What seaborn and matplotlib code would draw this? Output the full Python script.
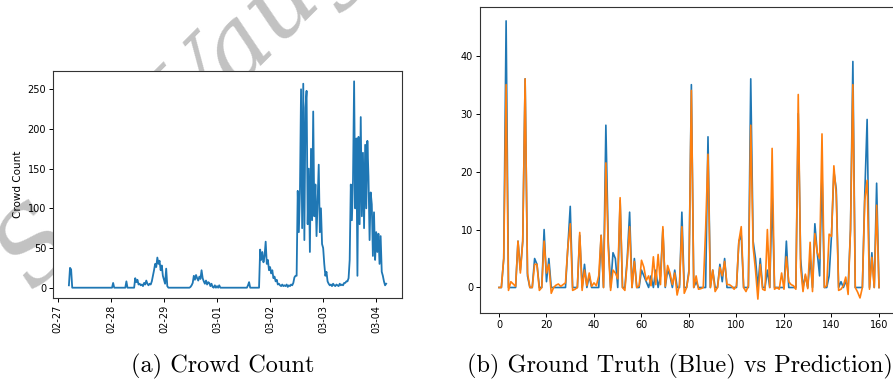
import pandas as pd
import matplotlib
matplotlib.use("Agg")
import matplotlib.pyplot as plt
import matplotlib.dates as mdates
import seaborn as sns

# (a) crowd count, 30 min samples from 2020-02-27 05:00
start_time = "2020-02-27 05:00"
counts_0227 = [3, 25, 23, 0, 0, 0, 0, 0, 0, 0,
               0, 0, 0, 0, 0, 0, 0, 0, 0, 0,
               0, 0, 0, 0, 0, 0, 0, 0, 0, 0,
               0, 0, 0, 0, 0, 0, 0, 0]
counts_0228 = [0, 0, 6, 0, 0, 0, 0, 0, 0, 0,
               0, 0, 0, 0, 8, 0, 0, 0, 0, 0,
               0, 0, 12, 7, 10, 4, 5, 3, 4, 2,
               6, 4, 9, 5, 3, 5, 4, 8, 15, 22,
               30, 26, 38, 30, 34, 22, 28, 15]
counts_0229 = [10, 5, 24, 2, 0, 0, 0, 0, 0, 0,
               0, 0, 0, 0, 0, 0, 0, 0, 0, 0,
               0, 0, 0, 0, 1, 3, 6, 15, 10, 16,
               12, 9, 14, 11, 22, 12, 8, 5, 9, 4,
               7, 6, 2, 5, 1, 0, 3, 0]
counts_0301 = [2, 0, 3, 0, 0, 0, 0, 0, 0, 0,
               0, 0, 0, 0, 0, 0, 0, 0, 0, 0,
               0, 0, 0, 0, 0, 0, 0, 0, 3, 7,
               0, 0, 0, 0, 0, 0, 0, 0, 0, 48,
               35, 45, 32, 40, 58, 30, 35, 22]
counts_0302 = [26, 18, 22, 12, 14, 8, 10, 4, 5, 3,
               2, 4, 2, 3, 2, 4, 1, 3, 2, 4,
               3, 6, 13, 15, 15, 122, 70, 120, 250, 75,
               257, 60, 227, 248, 80, 150, 45, 175, 85, 222,
               90, 130, 65, 110, 155, 70, 100, 55]
counts_0303 = [50, 30, 15, 20, 8, 5, 3, 4, 2, 5,
               3, 2, 4, 3, 2, 5, 3, 4, 3, 6,
               6, 8, 8, 12, 35, 130, 85, 135, 260, 100,
               188, 15, 190, 80, 215, 90, 170, 75, 180, 100,
               185, 140, 60, 120, 105, 40, 95, 35]
counts_0304 = [70, 45, 68, 30, 65, 20, 15, 8, 3, 5]

# (b) ground truth vs prediction
ground_truth = [0, 0, 5, 46, 0, 0, 0, 0, 8, 3, 8, 36, 2, 0, 0, 5, 4, 0, 0, 10,
                1, 5, 0, 0, 0, 0, 0, 0, 0, 7, 14, 0, 0, 0, 9, 0, 4, 0, 2, 0,
                0, 0, 0, 9, 0, 28, 8, 0, 6, 5, 0, 15, 0, 0, 5, 13, 0, 5, 0, 0,
                3, 2, 1, 0, 2, 0, 3, 0, 2, 10, 0, 3, 2, 0, 3, 0, 0, 13, 0, 0,
                3, 35, 0, 1, 0, 0, 0, 0, 26, 0, 3, 0, 0, 4, 1, 5, 0, 0, 0, 0,
                0, 8, 9, 0, 0, 0, 36, 8, 5, 0, 5, 0, 0, 3, 0, 16, 0, 0, 0, 0,
                0, 8, 0, 0, 0, 0, 30, 5, 0, 2, 0, 5, 0, 11, 6, 2, 20, 0, 0, 2,
                9, 20, 17, 0, 1, 0, 1, 0, 10, 39, 0, 0, 0, 0, 16, 29, 0, 6, 0, 18,
                0]
prediction = [0, 0, 5, 35, -0.5, 1, 0.6, 0.2, 8, 2.5, 8, 36, 2.5, 0, 0, 4, 4, -0.5, 0, 8,
              2.5, 4, -1, 0, 0.4, 0.6, 0.2, 0.5, 0.8, 7, 11, -0.5, -0.3, 0, 9.5, -0.5, 3, 0.3, 2.5, 0.2,
              0.8, 0.3, 2, 9, 0, 21.5, 7, -0.5, 3, 2.5, 1.5, 15.5, 0, -0.5, 4.5, 10.5, 0, 4.5, 0, 0.3,
              4.7, 3.5, 1.2, 2, 0.3, 5.3, 0.5, 5.7, 0.5, 10.5, 0.2, 3.8, 2.5, 0.5, 2.5, -1.3, 0.5, 10.5, -1, 0,
              2.5, 34, 0, 2, -0.3, -0.2, 0, 10, 23, 0, 3, -0.7, 0, 3.5, 2, 4.5, 0.5, 0.5, 0.2, -0.3,
              0.3, 8, 10.5, 0, -0.7, 0.3, 28, 7, 3, -2, 4, -0.3, -0.5, 10, 0, 24, -0.3, 0, -0.3, 2.5,
              -0.3, 5.3, 1, 0.5, 0.3, -0.3, 33.3, 3.5, -0.7, 2.3, -0.2, 7.8, -0.7, 9.3, 6, 5, 26.5, 0, 0.3, 9.2,
              8.8, 21, 16, -0.5, -0.3, 0.3, 1.8, -1.2, 10, 35, 0, -0.8, -1.8, 0, 15, 18.5, -0.3, 5.2, 0, 14.2,
              0]

counts = counts_0227 + counts_0228 + counts_0229 + counts_0301 + counts_0302 + counts_0303 + counts_0304
times = pd.date_range(start_time, periods=len(counts), freq="30min")
steps = list(range(len(ground_truth)))

fig = plt.figure(figsize=(8.93, 3.81), dpi=100)
ax1 = fig.add_axes([0.0594, 0.2178, 0.3908, 0.5958])
ax2 = fig.add_axes([0.5375, 0.1785, 0.4681, 0.8031])

sns.lineplot(x=times, y=counts, ax=ax1, color="#1f77b4", linewidth=1.3)
ax1.xaxis.set_major_locator(mdates.DayLocator())
ax1.xaxis.set_major_formatter(mdates.DateFormatter("%m-%d"))
ax1.tick_params(axis="x", labelrotation=90)
ax1.set_xlabel("")
ax1.set_ylabel("Crowd Count", fontsize=7.5, labelpad=3)
ax1.set_yticks([0, 50, 100, 150, 200, 250])

sns.lineplot(x=steps, y=ground_truth, ax=ax2, color="#1f77b4", linewidth=1.2)
sns.lineplot(x=steps, y=prediction, ax=ax2, color="#ff7f0e", linewidth=1.2)
ax2.set_xticks([0, 20, 40, 60, 80, 100, 120, 140, 160])
ax2.set_yticks([0, 10, 20, 30, 40])

for ax in (ax1, ax2):
    ax.tick_params(labelsize=7, length=3, width=0.7, pad=2)
    for sp in ax.spines.values():
        sp.set_linewidth(0.8)
        sp.set_color("#333333")

fig.text(0.249, 0.0236, "(a) Crowd Count", ha="center", va="baseline",
         fontsize=17.5, fontfamily="cmr10")
fig.text(0.523, 0.0236, "(b) Ground Truth (Blue) vs Prediction)", ha="left", va="baseline",
         fontsize=17.5, fontfamily="cmr10")

# grey watermark sitting behind the left panel
fig.text(0.037, 0.231, "S. J. Vaughan", rotation=45, rotation_mode="anchor",
         fontsize=72, color="#c2c2c2", fontfamily="DejaVu Serif", fontstyle="italic",
         ha="left", va="baseline", zorder=-1)

fig.savefig("out.png", dpi=100)
